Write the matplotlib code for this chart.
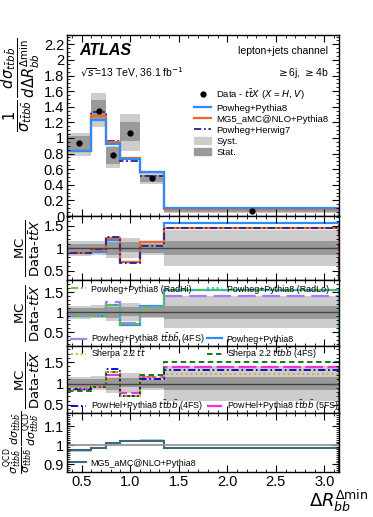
import matplotlib
matplotlib.use("Agg")
import matplotlib.pyplot as plt
import numpy as np
from matplotlib.ticker import MultipleLocator, FormatStrFormatter
from matplotlib.patches import Patch
from matplotlib.lines import Line2D
from matplotlib.legend import Legend

# bin edges of Delta R_bb^min
edges = [0.35, 0.6, 0.75, 0.9, 1.1, 1.35, 3.15]

# data (normalised cross-section) and uncertainty bands
data = [0.93, 1.35, 0.78, 1.06, 0.485, 0.062]
tot_lo = [0.77, 1.14, 0.61, 0.83, 0.41, 0.037]
tot_hi = [1.07, 1.58, 0.90, 1.31, 0.56, 0.087]
stat_lo = [0.83, 1.22, 0.67, 0.965, 0.43, 0.052]
stat_hi = [1.02, 1.49, 0.89, 1.20, 0.53, 0.072]

# MC / data ratios
r_pp8 = [0.90, 0.91, 1.19, 0.69, 1.15, 1.56]
r_mg5 = [0.90, 0.95, 1.22, 0.70, 1.15, 1.45]
r_ph7 = [0.90, 0.99, 1.24, 0.67, 1.06, 1.45]
r_radhi = [0.91, 0.91, 1.18, 0.71, 1.13, 1.54]
r_radlo = [0.91, 0.91, 1.17, 0.70, 1.13, 1.55]
r_pp8_4fs = [0.91, 0.91, 1.26, 0.72, 1.13, 1.40]
r_sh_tt = [0.90, 0.92, 1.28, 0.72, 1.15, 1.22]
r_sh_ttbb = [0.83, 0.92, 1.28, 0.72, 1.19, 1.50]
r_phel_4fs = [0.87, 0.92, 1.33, 0.72, 1.11, 1.32]
r_phel_5fs = [0.88, 0.92, 1.20, 0.77, 1.15, 1.39]

# sigma^QCD ratio (last panel)
r_qcd = [0.973, 0.985, 1.013, 1.022, 1.025, 0.985]

c_pp8 = "#2b8cff"
c_mg5 = "#f26522"
c_ph7 = "#222299"
c_radhi = "#5fc12f"
c_radlo = "#33cccc"
c_4fs = "#a57dff"
c_shtt = "#ddaa22"
c_shbb = "#006e00"
c_phel4 = "#0000cc"
c_phel5 = "#ee33dd"
c_qcd = "#3b6a7e"
c_syst = "#cdcdcd"
c_stat = "#9a9a9a"

dashdot = (0, (4, 1.5, 1, 1.5))
dotted = (0, (1, 1.5))

plt.rcParams['font.family'] = ['Liberation Sans', 'DejaVu Sans']
plt.rcParams['mathtext.fontset'] = 'dejavusans'

W, H = 373, 517
fig = plt.figure(figsize=(W / 100, H / 100), dpi=100)
left, right = 67, 339
rows = [(35, 216), (216, 280), (280, 346), (346, 413), (413, 472)]
axes = []
for top, bot in rows:
    axes.append(fig.add_axes([left / W, 1 - bot / H, (right - left) / W, (bot - top) / H]))

edges = np.array(edges)
data = np.array(data)
centers = 0.5 * (edges[:-1] + edges[1:])


def bands(ax, lo, hi, slo, shi):
    ax.stairs(hi, edges, baseline=lo, fill=True, color=c_syst, lw=0)
    ax.stairs(shi, edges, baseline=slo, fill=True, color=c_stat, lw=0)


def style(ax, ymaj, ymin, fmt='%g'):
    ax.set_xlim(edges[0], edges[-1])
    ax.xaxis.set_major_locator(MultipleLocator(0.5))
    ax.xaxis.set_minor_locator(MultipleLocator(0.1))
    ax.yaxis.set_major_locator(MultipleLocator(ymaj))
    ax.yaxis.set_minor_locator(MultipleLocator(ymin))
    ax.yaxis.set_major_formatter(FormatStrFormatter(fmt))
    ax.tick_params(which='both', direction='in', top=True, right=True, labelsize=10.5, pad=2)
    ax.tick_params(which='major', length=5, width=0.8)
    ax.tick_params(which='minor', length=2.5, width=0.6)
    for s in ax.spines.values():
        s.set_linewidth(1.0)


def entry(ax, handle, label, xpx, ypx):
    # single legend entry, handle starting at xpx, centred on ypx (figure pixels)
    bb = ax.get_position()
    xa = (xpx / W - bb.x0) / bb.width
    ya = ((1 - ypx / H) - bb.y0) / bb.height
    leg = Legend(ax, [handle], [label], loc='center left', bbox_to_anchor=(xa, ya), frameon=False,
                 fontsize=6.4, handlelength=1.7, borderpad=0, borderaxespad=0, handletextpad=0.5)
    ax.add_artist(leg)


# main panel
ax = axes[0]
bands(ax, tot_lo, tot_hi, stat_lo, stat_hi)
ax.stairs(data * np.array(r_ph7), edges, color=c_ph7, lw=1.3, ls=dashdot)
ax.stairs(data * np.array(r_mg5), edges, color=c_mg5, lw=1.6)
ax.stairs(data * np.array(r_pp8), edges, color=c_pp8, lw=1.6)
ax.plot(centers, data, 'o', color='black', ms=3.5)
ax.set_ylim(0, 2.32)
style(ax, 0.2, 0.05)
ax.tick_params(labelbottom=False)
ax.text(0.047, 0.915, 'ATLAS', transform=ax.transAxes, fontsize=11.5, fontweight='bold',
        style='italic', va='center')
ax.text(0.047, 0.79, r'$\sqrt{s}$=13 TeV, 36.1 fb$^{-1}$', transform=ax.transAxes, fontsize=7.5,
        va='center')
ax.text(0.96, 0.91, 'lepton+jets channel', transform=ax.transAxes, fontsize=7.5, va='center',
        ha='right')
ax.text(0.96, 0.79, r'$\geq$6j, $\geq$4b', transform=ax.transAxes, fontsize=7.5, va='center',
        ha='right')
h = [Line2D([], [], marker='o', ls='none', color='black', ms=3.5),
     Line2D([], [], color=c_pp8, lw=1.6),
     Line2D([], [], color=c_mg5, lw=1.6),
     Line2D([], [], color=c_ph7, lw=1.3, ls=dashdot),
     Patch(color=c_syst), Patch(color=c_stat)]
lab = [r'Data - $t\bar{t}X$ ($X$ = $H,V$)', 'Powheg+Pythia8', 'MG5_aMC@NLO+Pythia8',
       'Powheg+Herwig7', 'Syst.', 'Stat.']
ax.legend(h, lab, loc='upper left', bbox_to_anchor=(0.467, 0.715), frameon=False, fontsize=6.8,
          handlelength=1.85, labelspacing=0.22, borderpad=0, borderaxespad=0, handletextpad=0.5)
ax.set_ylabel(r'$\dfrac{1}{\sigma_{t\bar{t}b\bar{b}}}\,\dfrac{d\sigma_{t\bar{t}b\bar{b}}}'
              r'{d\Delta R^{\Delta\min}_{bb}}$', fontsize=10.5, loc='top')
ax.yaxis.set_label_coords(-0.092, 0.985)

rlo = np.array(tot_lo) / data
rhi = np.array(tot_hi) / data
slo = np.array(stat_lo) / data
shi = np.array(stat_hi) / data
rlab = r'$\dfrac{\mathrm{MC}}{\mathrm{Data}\text{-}t\bar{t}X}$'

# ratio panel 1
ax = axes[1]
bands(ax, rlo, rhi, slo, shi)
ax.axhline(1, color='#444444', lw=1)
ax.stairs(r_pp8, edges, color=c_pp8, lw=1.6)
ax.stairs(r_mg5, edges, color=c_mg5, lw=1.6)
ax.stairs(r_ph7, edges, color=c_ph7, lw=1.3, ls=dashdot)
ax.set_ylim(0.29, 1.72)
style(ax, 0.5, 0.1)
ax.tick_params(labelbottom=False)

# ratio panel 2
ax = axes[2]
bands(ax, rlo, rhi, slo, shi)
ax.axhline(1, color='#444444', lw=1)
ax.stairs(r_pp8, edges, color=c_pp8, lw=1.6)
ax.stairs(r_pp8_4fs, edges, color=c_4fs, lw=1.6, ls=(0, (8, 3)))
ax.stairs(r_radlo, edges, color=c_radlo, lw=1.4, ls=dotted)
ax.stairs(r_radhi, edges, color=c_radhi, lw=1.3, ls=dashdot)
ax.set_ylim(0.16, 1.8)
style(ax, 0.5, 0.1)
ax.tick_params(labelbottom=False)
entry(ax, Line2D([], [], color=c_radhi, lw=1.3, ls=dashdot), 'Powheg+Pythia8 (RadHi)', 71, 289)
entry(ax, Line2D([], [], color=c_radlo, lw=1.4, ls=dotted), 'Powheg+Pythia8 (RadLo)', 207, 289)
entry(ax, Line2D([], [], color=c_4fs, lw=1.6), r'Powheg+Pythia8 $t\bar{t}b\bar{b}$ (4FS)', 71, 339)
entry(ax, Line2D([], [], color=c_pp8, lw=1.6), 'Powheg+Pythia8', 207, 339)

# ratio panel 3
ax = axes[3]
bands(ax, rlo, rhi, slo, shi)
ax.axhline(1, color='#444444', lw=1)
ax.stairs(r_phel_5fs, edges, color=c_phel5, lw=1.6, ls=(0, (8, 2)))
ax.stairs(r_phel_4fs, edges, color=c_phel4, lw=1.3, ls=dashdot)
ax.stairs(r_sh_ttbb, edges, color=c_shbb, lw=1.3, ls=(0, (3, 2)))
ax.stairs(r_sh_tt, edges, color=c_shtt, lw=1.4, ls=dotted)
ax.set_ylim(0.31, 1.88)
style(ax, 0.5, 0.1)
ax.tick_params(labelbottom=False)
entry(ax, Line2D([], [], color=c_shtt, lw=1.4, ls=dotted), r'Sherpa 2.2 $t\bar{t}$', 71, 354)
entry(ax, Line2D([], [], color=c_shbb, lw=1.3, ls=(0, (3, 2))),
      r'Sherpa 2.2 $t\bar{t}b\bar{b}$ (4FS)', 207, 354)
entry(ax, Line2D([], [], color=c_phel4, lw=1.3, ls=dashdot),
      r'PowHel+Pythia8 $t\bar{t}b\bar{b}$ (4FS)', 71, 406)
entry(ax, Line2D([], [], color=c_phel5, lw=1.6, ls=(0, (8, 2))),
      r'PowHel+Pythia8 $t\bar{t}b\bar{b}$ (5FS)', 207, 406)

# QCD panel
ax = axes[4]
ax.axhspan(0.995, 1.005, color=c_syst, lw=0)
ax.axhline(1, color='#999999', lw=1.2)
lo_q = np.array(r_qcd) - 0.006
hi_q = np.array(r_qcd) + 0.006
ax.stairs(hi_q, edges, baseline=lo_q, fill=True, color='#bfc9cf', lw=0)
ax.stairs(r_qcd, edges, color=c_qcd, lw=1.5)
ax.set_ylim(0.86, 1.17)
style(ax, 0.1, 0.01)
entry(ax, Line2D([], [], color=c_qcd, lw=1.5), 'MG5_aMC@NLO+Pythia8', 71, 463)

for a in axes[1:4]:
    a.set_ylabel(rlab, fontsize=9.5)
    a.yaxis.set_label_coords(-0.092, 0.5)
axes[4].set_ylabel(r'$\dfrac{\sigma^{\rm QCD}_{t\bar{t}b\bar{b}}}{\sigma_{t\bar{t}b\bar{b}}}\,'
                   r'\dfrac{d\sigma_{t\bar{t}b\bar{b}}}{d\sigma^{\rm QCD}_{t\bar{t}b\bar{b}}}$', fontsize=8)
axes[4].yaxis.set_label_coords(-0.092, 0.5)

fig.text(368 / W, 1 - 501 / H, r'$\Delta R^{\Delta\min}_{bb}$', fontsize=13, ha='right', va='center')

fig.savefig('out.png', dpi=100)
